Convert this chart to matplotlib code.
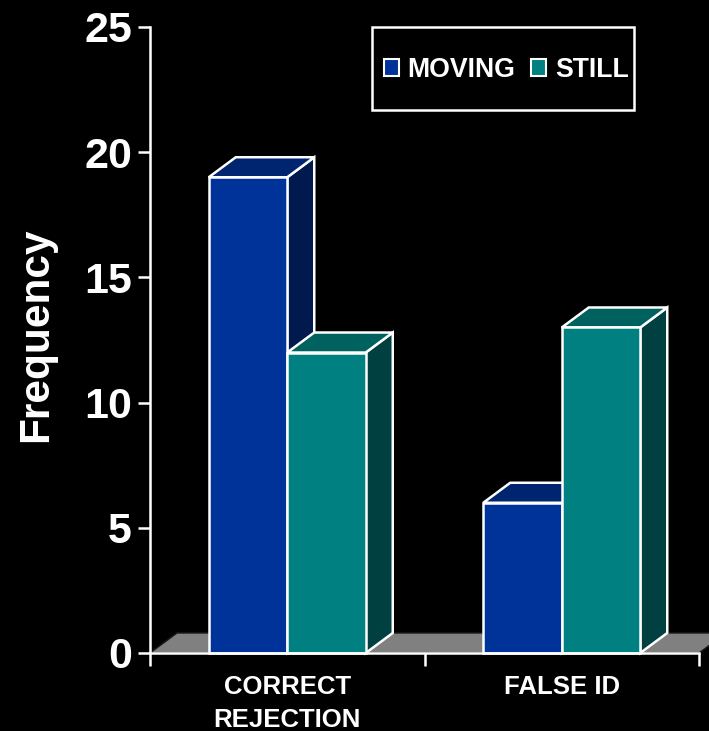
import matplotlib
matplotlib.use('Agg')
import matplotlib.pyplot as plt
from matplotlib.patches import Polygon, Patch, Rectangle

plt.rcParams['font.family'] = ['Liberation Sans', 'DejaVu Sans']
plt.rcParams['font.weight'] = 'bold'

categories = ['CORRECT\nREJECTION', 'FALSE ID']
moving = [19, 6]
still = [12, 13]
yticks = [0, 5, 10, 15, 20, 25]

W, H = 709, 731
fig = plt.figure(figsize=(W / 100, H / 100), dpi=100, facecolor='black')
ax = fig.add_axes([150 / W, 1 - 653 / H, 549 / W, 626 / H], facecolor='black')
ax.set_xlim(0, 2)
ax.set_ylim(0, 25)

# глубина псевдо-3D в единицах данных
dx = 27 / 274.5
dy = 20 / 25.04
bar_w = 78.5 / 274.5
edge = dict(edgecolor='white', linewidth=1.8, joinstyle='miter')


def box(x, h, front, top, side):
    ax.add_patch(Polygon([(x + bar_w, 0), (x + bar_w + dx, dy), (x + bar_w + dx, h + dy), (x + bar_w, h)],
                         facecolor=side, clip_on=False, zorder=3, **edge))
    ax.add_patch(Polygon([(x, h), (x + dx, h + dy), (x + bar_w + dx, h + dy), (x + bar_w, h)],
                         facecolor=top, clip_on=False, zorder=3, **edge))
    ax.add_patch(Polygon([(x, 0), (x, h), (x + bar_w, h), (x + bar_w, 0)],
                         facecolor=front, clip_on=False, zorder=3, **edge))


# пол
ax.add_patch(Polygon([(0, 0), (dx, dy), (2 + dx, dy), (2, 0)], facecolor='#808080',
                     edgecolor='#1a1a1a', linewidth=1, clip_on=False, zorder=1))

for i in range(len(categories)):
    c = i + 0.5
    box(c - bar_w, moving[i], '#003399', '#002570', '#001a50')
    box(c, still[i], '#008080', '#00625e', '#004040')

for s in ['top', 'right']:
    ax.spines[s].set_visible(False)
for s in ['left', 'bottom']:
    ax.spines[s].set_color('white')
    ax.spines[s].set_linewidth(1.8)
    ax.spines[s].set_zorder(4)

ax.set_yticks(yticks)
ax.tick_params(axis='y', colors='white', labelsize=31, length=9, width=1.8, pad=4)
ax.set_xticks([0, 1, 2])
ax.set_xticklabels([])
ax.tick_params(axis='x', colors='white', length=9, width=1.8)
ax.set_xticks([0.5, 1.5], minor=True)
ax.set_xticklabels(categories, minor=True, fontsize=18.5, color='white', linespacing=1.5)
ax.tick_params(axis='x', which='minor', length=0, pad=15.5)

fig.text(36 / W, 1 - 335 / H, 'Frequency', rotation=90, color='white', fontsize=30.5,
         ha='center', va='center')

# рамка легенды отдельно: отступы слева и справа у неё разные
fig.add_artist(Rectangle((372 / W, 1 - 110 / H), 262 / W, 83 / H, transform=fig.transFigure,
                         facecolor='black', edgecolor='white', linewidth=1.8))
handles = [Patch(facecolor='#003399', edgecolor='white', linewidth=1.5, label='MOVING'),
           Patch(facecolor='#008080', edgecolor='white', linewidth=1.5, label='STILL')]
leg = fig.legend(handles=handles, ncol=2, loc='center left', bbox_to_anchor=(384 / W, 1 - 70 / H),
                 frameon=False, labelcolor='white', fontsize=19.2, handlelength=0.56, handleheight=0.56,
                 handletextpad=0.33, columnspacing=0.58, borderpad=0, borderaxespad=0)

fig.savefig('out.png', dpi=100, facecolor='black')
